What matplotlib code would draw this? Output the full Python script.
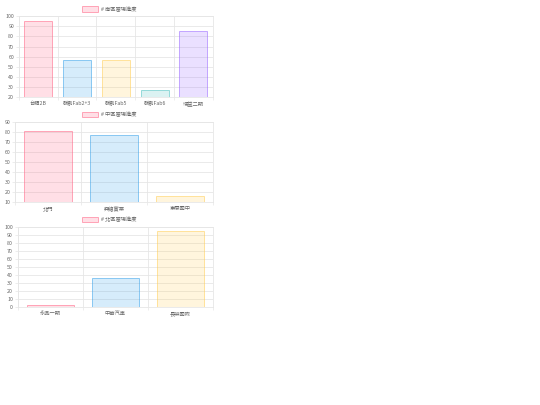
import numpy as np
import matplotlib
matplotlib.use('Agg')
import matplotlib.pyplot as plt
from matplotlib.patches import Rectangle

plt.rcParams['font.family'] = ['Noto Sans CJK TC', 'DejaVu Sans']

# data for the three panels
south_labels = ['台積2B', '群創Fab2+3', '群創Fab5', '群創Fab6', '瑞益二期']
south_values = [95, 57, 57, 27, 85]
mid_labels = ['北門', '興總實業', '東原國中']
mid_values = [81, 77, 16]
north_labels = ['永品一期', '中華汽車', '長榮國際']
north_values = [2, 36, 95]

titles = ['# 南區當場進度', '# 中區當場進度', '# 北區當場進度']
yranges = [(20, 100), (10, 90), (0, 100)]

fills = [(1, 99/255, 132/255), (54/255, 162/255, 235/255), (1, 206/255, 86/255),
         (75/255, 192/255, 192/255), (153/255, 102/255, 1)]

# axes boxes in figure fractions (left, bottom, width, height)
boxes = [[0.035, 0.760, 0.359, 0.200],
         [0.028, 0.501, 0.367, 0.198],
         [0.033, 0.242, 0.361, 0.198]]

fig = plt.figure(figsize=(5.4, 4.05), dpi=100)
grid_c = '#e6e6e6'
txt_c = '#666666'

panels = [(south_labels, south_values), (mid_labels, mid_values), (north_labels, north_values)]
for i, (labels, values) in enumerate(panels):
    ax = fig.add_axes(boxes[i])
    n = len(labels)
    x = np.arange(n)
    cols = [fills[k % len(fills)] for k in range(n)]
    ax.bar(x, values, width=0.72, color=[c + (0.2,) for c in cols],
           edgecolor=[c + (0.55,) for c in cols], linewidth=0.7, zorder=2)
    lo, hi = yranges[i]
    ax.set_ylim(lo, hi)
    ax.set_xlim(-0.5, n - 0.5)
    ax.set_yticks(np.arange(lo, hi + 1, 10))
    ax.set_xticks(x)
    ax.set_xticklabels(labels)
    ax.set_xticks(np.arange(-0.5, n, 1), minor=True)
    ax.tick_params(axis='both', which='major', labelsize=3.8, labelcolor=txt_c, length=2,
                   width=0.5, color=grid_c, pad=1.5)
    ax.tick_params(axis='x', which='major', length=0, pad=3)
    ax.tick_params(axis='x', which='minor', length=2, width=0.5, color=grid_c)
    ax.grid(True, which='minor', axis='x', color=grid_c, linewidth=0.6)
    ax.grid(True, which='major', axis='y', color=grid_c, linewidth=0.6)
    ax.grid(False, which='major', axis='x')
    for s in ax.spines.values():
        s.set_color(grid_c)
        s.set_linewidth(0.6)
    ax.set_axisbelow(True)
    # legend box like chart.js
    b = boxes[i]
    top = b[1] + b[3]
    fig.patches.append(Rectangle((0.152, top + 0.011), 0.030, 0.013, transform=fig.transFigure,
                                 facecolor=fills[0] + (0.2,), edgecolor=fills[0] + (0.55,),
                                 linewidth=0.7))
    fig.text(0.187, top + 0.0175, titles[i], fontsize=3.8, color=txt_c, va='center', ha='left')

fig.savefig('out.png', dpi=100)
